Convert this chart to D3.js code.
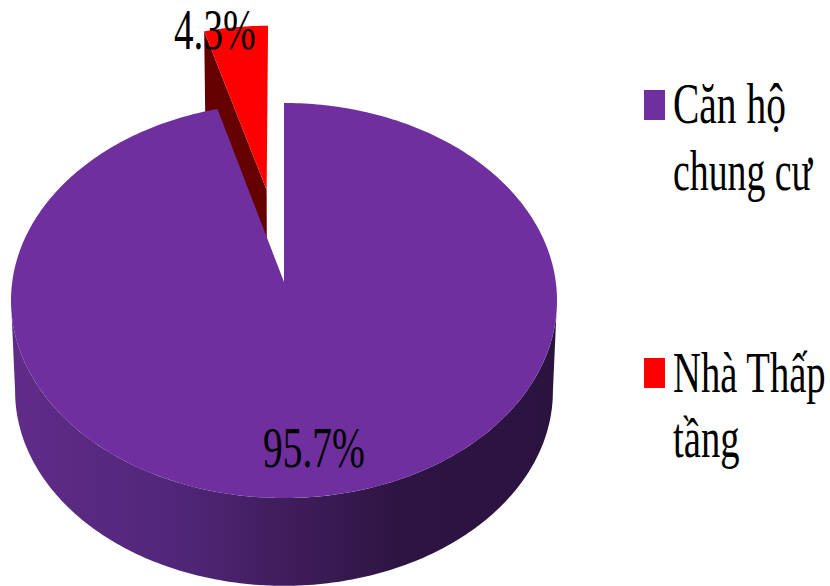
<!DOCTYPE html>
<html>
<head>
<meta charset="utf-8">
<script src="https://cdn.jsdelivr.net/npm/d3@7"></script>
<style>
  html, body { margin: 0; padding: 0; background: #fff; }
  svg { display: block; }
  text { font-family: "Liberation Serif", serif; fill: #000; }
</style>
</head>
<body>
<svg id="chart" width="830" height="586"></svg>
<script>
// Share of housing types, in percent
const categories = ["Căn hộ chung cư", "Nhà Thấp tầng"];
const shares = [95.7, 4.3];
const legendLines = [["Căn hộ", "chung cư"], ["Nhà Thấp", "tầng"]];
const topColors = ["#6f2f9e", "#ff0000"];
const explosions = [0, 0.496];

const svg = d3.select("#chart");

// Perspective camera for a disc of unit radius lying on its back
const centerX = 284, centerY = 282;
const radiusX = 271.8, radiusY = 195.8, tilt = 0.0937;
const wallDrop = 91, wallShrink = 0.985;

function project(x, y, lower) {
  const w = 1 + tilt * y;
  const s = lower ? wallShrink : 1;
  return [
    centerX + s * radiusX * x / w,
    centerY + (lower ? wallDrop : 0) - s * radiusY * y / w
  ];
}

const pie = d3.pie().value(d => d).sort(null);
const arcs = pie(shares);

// Slice centre on the disc after pulling it out along its bisector
function sliceOrigin(arc, i) {
  const mid = (arc.startAngle + arc.endAngle) / 2;
  return [explosions[i] * Math.sin(mid), explosions[i] * Math.cos(mid)];
}

function rimPoint(arc, i, angle, lower) {
  const [ox, oy] = sliceOrigin(arc, i);
  return project(ox + Math.sin(angle), oy + Math.cos(angle), lower);
}

function rim(arc, i, from, to, lower) {
  const n = Math.max(2, Math.ceil(Math.abs(to - from) * 60));
  return d3.range(n + 1).map(k => rimPoint(arc, i, from + (to - from) * k / n, lower));
}

const line = d3.line();
const closed = pts => line(pts) + "Z";

// Front wall shading runs from left to right
const defs = svg.append("defs");
const wallGradient = defs.append("linearGradient")
  .attr("id", "wallShade")
  .attr("gradientUnits", "userSpaceOnUse")
  .attr("x1", 12).attr("x2", 556).attr("y1", 0).attr("y2", 0);
[[0, "#602c88"], [0.3, "#51267a"], [0.5, "#401d5c"], [0.72, "#2d1442"], [1, "#2b1340"]]
  .forEach(([o, c]) => wallGradient.append("stop").attr("offset", o).attr("stop-color", c));

const main = arcs[0], small = arcs[1];

// Exploded small slice: cut face first, then its top
const smallOrigin = sliceOrigin(small, 1);
svg.append("path")
  .attr("d", closed([
    rimPoint(small, 1, small.startAngle, false),
    project(smallOrigin[0], smallOrigin[1], false),
    project(smallOrigin[0], smallOrigin[1], true),
    rimPoint(small, 1, small.startAngle, true)
  ]))
  .attr("fill", "#650000");

svg.append("path")
  .attr("d", closed([project(smallOrigin[0], smallOrigin[1], false)]
    .concat(rim(small, 1, small.startAngle, small.endAngle, false))))
  .attr("fill", topColors[1]);

// Main slice: outer wall along the near half of the rim, then the top
const nearFrom = Math.PI / 2 + Math.asin(tilt);
const nearTo = 3 * Math.PI / 2 - Math.asin(tilt);
svg.append("path")
  .attr("d", closed(
    rim(main, 0, nearFrom, nearTo, false)
      .concat(rim(main, 0, nearTo, nearFrom, true))
  ))
  .attr("fill", "url(#wallShade)");

svg.append("path")
  .attr("d", closed([project(0, 0, false)]
    .concat(rim(main, 0, main.startAngle, main.endAngle, false))))
  .attr("fill", topColors[0]);

// Condensed serif text
function label(x, y, str, squeeze) {
  return svg.append("text")
    .attr("transform", `translate(${x},${y}) scale(${squeeze},1)`)
    .attr("font-size", 56)
    .text(str);
}

const fmt = v => d3.format(".1f")(v) + "%";
label(263, 467, fmt(shares[0]), 0.705);
label(174, 49, fmt(shares[1]), 0.7);

// Legend
const legendSwatchY = [90, 358];
const legendBaselines = [[123, 190], [392, 457]];
const legendSqueeze = [[0.705, 0.675], [0.69, 0.69]];
categories.forEach((name, i) => {
  svg.append("rect")
    .attr("x", 644).attr("y", legendSwatchY[i])
    .attr("width", 21).attr("height", 30)
    .attr("fill", topColors[i]);
  legendLines[i].forEach((t, j) => label(673, legendBaselines[i][j], t, legendSqueeze[i][j]));
});
</script>
</body>
</html>
